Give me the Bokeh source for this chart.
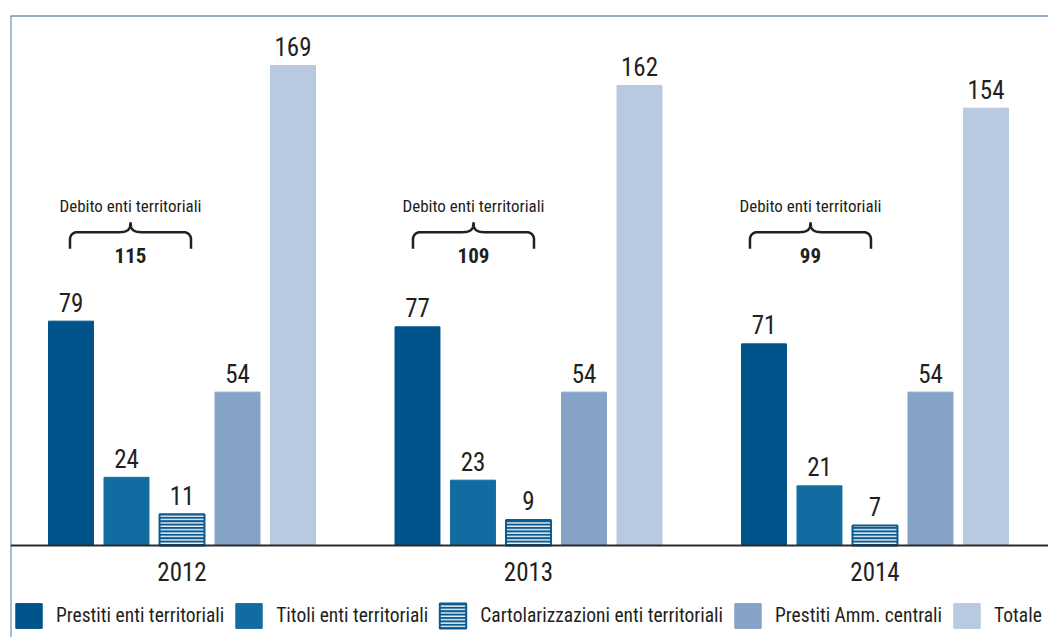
import numpy as np
from bokeh.plotting import figure
from bokeh.models import Span, Legend, LegendItem
from bokeh.core.properties import value
from bokeh.embed import file_html
from bokeh.resources import INLINE

# ---------------- data ----------------
years = ["2012", "2013", "2014"]
series_names = [
    "Prestiti enti territoriali",
    "Titoli enti territoriali",
    "Cartolarizzazioni enti territoriali",
    "Prestiti Amm. centrali",
    "Totale",
]
prestiti_enti = [79, 77, 71]
titoli_enti = [24, 23, 21]
cartolarizzazioni_enti = [11, 9, 7]
prestiti_amm_centrali = [54, 54, 54]
totale = [169, 162, 154]
debito_enti = [115, 109, 99]
brace_title = "Debito enti territoriali"

series_values = [prestiti_enti, titoli_enti, cartolarizzazioni_enti,
                 prestiti_amm_centrali, totale]
colors = ["#00538a", "#136ca1", "#0b5a91", "#85a3c7", "#b8c9e0"]

# ---------------- layout ----------------
W, H = 1048, 637
FRAME_L, FRAME_T = 10, 15
PX_X = 55.5          # pixels per bar slot
PX_Y = 2.84          # pixels per unit
BASE_PX = 545        # baseline screen y
FIRST_BAR_PX = 70.5  # first bar centre screen x
GROUP_STEP = 6.243
BAR_W = 0.81
FONT = "Roboto Condensed"
TXT = "#231f20"

x_start = -(FIRST_BAR_PX - FRAME_L) / PX_X
x_end = x_start + (W - FRAME_L) / PX_X
y_end = (BASE_PX - FRAME_T) / PX_Y
y_start = -(H - BASE_PX) / PX_Y

p = figure(width=W, height=H, x_range=(x_start, x_end), y_range=(y_start, y_end),
           output_backend="svg", toolbar_location=None,
           x_axis_location=None, y_axis_location=None,
           min_border_left=FRAME_L, min_border_top=FRAME_T,
           min_border_right=0, min_border_bottom=0)
p.grid.visible = False
p.outline_line_color = None
p.background_fill_color = "white"
p.border_fill_color = "white"

# frame lines
p.add_layout(Span(location=y_end, dimension="width", line_color="#2a6494", line_width=2))
p.add_layout(Span(location=x_start, dimension="height", line_color="#4a7fb0", line_width=2))

renderers = []
for si, vals in enumerate(series_values):
    xs = [gi * GROUP_STEP + si for gi in range(len(years))]
    kw = dict(fill_color=colors[si], line_color=colors[si])
    if si == 2:
        kw.update(hatch_pattern="horizontal_line", hatch_color="white",
                  hatch_scale=3.4, hatch_weight=1.3, line_width=2)
    r = p.vbar(x=xs, top=vals, bottom=0, width=BAR_W, **kw)
    renderers.append(r)
    p.text(x=xs, y=vals, text=[str(v) for v in vals], text_align="center",
           text_baseline="middle", y_offset=-19,
           text_font=value(FONT), text_font_size="25px", text_color=TXT)

# baseline
p.add_layout(Span(location=0, dimension="width", line_color="#2b2b2b", line_width=2))

# year labels
p.text(x=[gi * GROUP_STEP + 2 for gi in range(len(years))], y=[0] * len(years),
       text=years, text_align="center", text_baseline="middle", y_offset=26,
       text_font=value(FONT), text_font_size="25px", text_color=TXT)

# braces for "Debito enti territoriali"
brace_center_px = [59.5, 56.0, 46.5]
brace_line_y = (BASE_PX - 231.7) / PX_Y
half_w, rad, leg = 60.5, 7.0, 16.5
th = np.linspace(np.pi, 1.5 * np.pi, 12)
arc_x = -half_w + rad + rad * np.cos(th)
arc_y = rad + rad * np.sin(th)
t = np.linspace(0, 1, 16)
P0, P1, P2, P3 = (-13, 0), (-3, 0), (0, -2), (0, -10)
cub_x = ((1 - t) ** 3) * P0[0] + 3 * ((1 - t) ** 2) * t * P1[0] + 3 * (1 - t) * t ** 2 * P2[0] + t ** 3 * P3[0]
cub_y = ((1 - t) ** 3) * P0[1] + 3 * ((1 - t) ** 2) * t * P1[1] + 3 * (1 - t) * t ** 2 * P2[1] + t ** 3 * P3[1]
left_x = np.concatenate([[-half_w], arc_x, cub_x])
left_y = np.concatenate([[leg], arc_y, cub_y])
bx = np.concatenate([left_x, -left_x[::-1]])
by = np.concatenate([left_y, left_y[::-1]])

cxs = []
for gi in range(len(years)):
    cx = gi * GROUP_STEP + brace_center_px[gi] / PX_X
    cxs.append(cx)
    p.line(x=cx + bx / PX_X, y=brace_line_y - by / PX_Y, line_color=TXT, line_width=2.5)

p.text(x=cxs, y=[brace_line_y] * len(years), text=[brace_title] * len(years),
       text_align="center", text_baseline="middle", y_offset=-26,
       text_font=value(FONT), text_font_size="17px", text_color=TXT)
p.text(x=cxs, y=[brace_line_y] * len(years), text=[str(v) for v in debito_enti],
       text_align="center", text_baseline="middle", y_offset=23,
       text_font=value(FONT), text_font_size="21px", text_font_style="bold", text_color=TXT)

legend = Legend(items=[LegendItem(label=n, renderers=[r]) for n, r in zip(series_names, renderers)],
                orientation="horizontal", location=(2, 6),
                glyph_width=33, glyph_height=31, label_standoff=11, spacing=8,
                padding=0, margin=0, border_line_color=None, background_fill_alpha=0,
                label_text_font=FONT, label_text_font_size="19.5px", label_text_color=TXT)
p.add_layout(legend)

open("out.html", "w").write(file_html(p, INLINE))
